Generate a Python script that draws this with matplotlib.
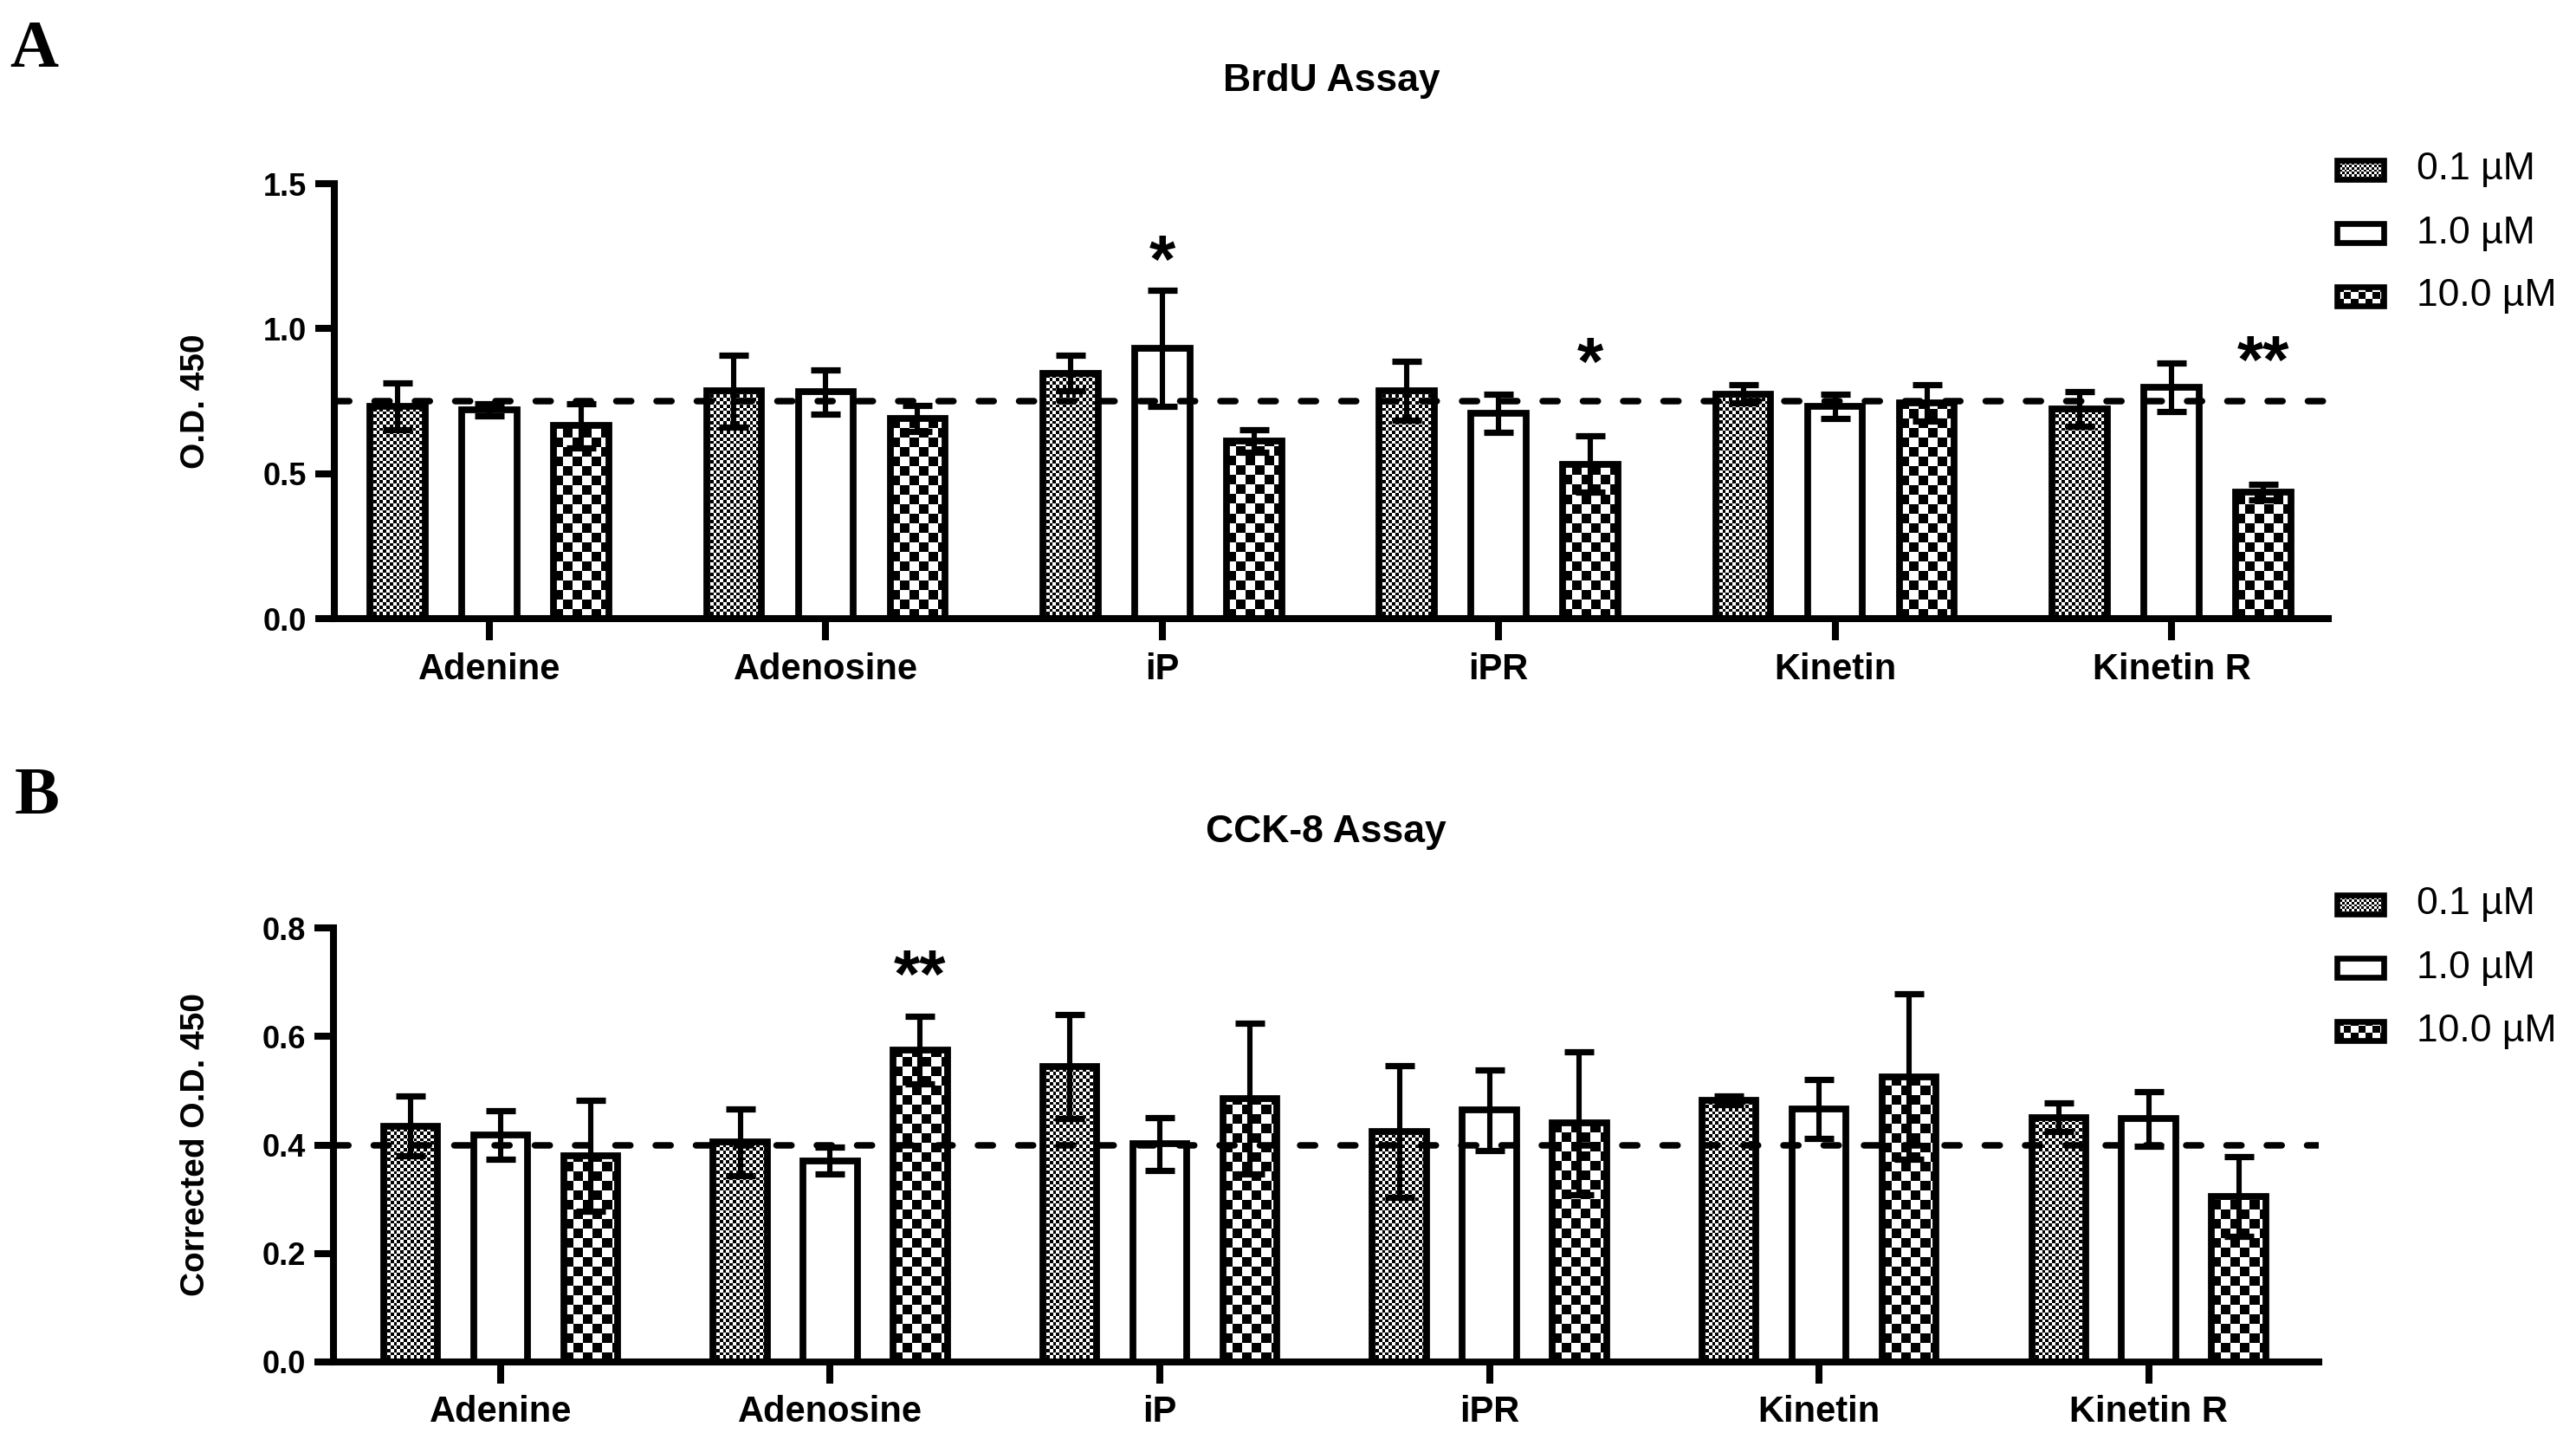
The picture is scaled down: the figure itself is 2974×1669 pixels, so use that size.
import numpy as np
import matplotlib
matplotlib.use("Agg")
import matplotlib.pyplot as plt
from matplotlib.patches import Rectangle
from matplotlib import transforms

plt.rcParams["font.family"] = ["Liberation Sans", "DejaVu Sans"]

# ---------------- data ----------------
categories = ["Adenine", "Adenosine", "iP", "iPR", "Kinetin", "Kinetin R"]
series_labels = ["0.1 µM", "1.0 µM", "10.0 µM"]

# Panel A: BrdU assay (O.D. 450)
brdu_01 = [0.732, 0.785, 0.847, 0.785, 0.775, 0.723]
brdu_01_err = [0.080, 0.124, 0.062, 0.102, 0.031, 0.059]
brdu_10 = [0.720, 0.782, 0.931, 0.709, 0.732, 0.797]
brdu_10_err = [0.020, 0.076, 0.200, 0.066, 0.043, 0.083]
brdu_100 = [0.665, 0.690, 0.613, 0.533, 0.743, 0.436]
brdu_100_err = [0.077, 0.045, 0.038, 0.096, 0.063, 0.028]
brdu_control = 0.75
brdu_yticks = [0.0, 0.5, 1.0, 1.5]
brdu_stars = [("iP", 1, "*", 1.264), ("iPR", 2, "*", 0.911), ("Kinetin R", 2, "**", 0.916)]

# Panel B: CCK-8 assay (corrected O.D. 450)
cck_01 = [0.435, 0.405, 0.545, 0.425, 0.482, 0.451]
cck_01_err = [0.055, 0.062, 0.096, 0.122, 0.008, 0.026]
cck_10 = [0.418, 0.371, 0.402, 0.464, 0.466, 0.448]
cck_10_err = [0.045, 0.025, 0.049, 0.074, 0.054, 0.050]
cck_100 = [0.380, 0.575, 0.486, 0.440, 0.526, 0.305]
cck_100_err = [0.103, 0.062, 0.139, 0.132, 0.153, 0.074]
cck_control = 0.40
cck_yticks = [0.0, 0.2, 0.4, 0.6, 0.8]
cck_stars = [("Adenosine", 2, "**", 0.729)]

# ---------------- figure ----------------
W, H, DPI = 2974, 1669, 200
fig = plt.figure(figsize=(W / DPI, H / DPI), dpi=DPI)


def fx(px):
    return px / W


def fy(py):
    return 1 - py / H


CELL = [3.8, None, 11.0]   # checker cell size (pixels) per series
OFFS = [-0.273, 0.0, 0.273]
BAR_W = 0.164
EDGE_LW = 2.8
SPINE_LW = 2.9


def checker_fill(ax, patch, cell_px, z=2):
    x0, y0 = patch.get_x(), patch.get_y()
    w, h = patch.get_width(), patch.get_height()
    p0 = ax.transData.transform((x0, y0))
    p1 = ax.transData.transform((x0 + w, y0 + h))
    wpx, hpx = abs(p1[0] - p0[0]), abs(p1[1] - p0[1])
    if wpx <= 0 or hpx <= 0:
        return
    nx = int(np.ceil(wpx / cell_px)) + 1
    ny = int(np.ceil(hpx / cell_px)) + 1
    arr = np.add.outer(np.arange(ny), np.arange(nx)) % 2
    cw = cell_px * w / wpx
    ch = cell_px * h / hpx
    im = ax.imshow(arr, cmap="gray", vmin=0, vmax=1, interpolation="nearest",
                   extent=(x0, x0 + nx * cw, y0, y0 + ny * ch), origin="lower",
                   aspect="auto", zorder=z)
    im.set_clip_path(patch)


def draw_panel(rect, xlim, means, errs, control, yticks, stars, title,
               ylabel, title_y, legend_rows):
    ax = fig.add_axes(rect)
    ylim = (yticks[0], yticks[-1])
    ax.set_xlim(*xlim)
    ax.set_ylim(*ylim)
    x = np.arange(len(categories))
    for s in range(3):
        xs = x + OFFS[s]
        if CELL[s] is None:
            bars = ax.bar(xs, means[s], width=BAR_W, facecolor="white",
                          edgecolor="black", linewidth=EDGE_LW, zorder=3)
        else:
            bars = ax.bar(xs, means[s], width=BAR_W, facecolor="none",
                          edgecolor="black", linewidth=EDGE_LW, zorder=3)
            for b in bars:
                checker_fill(ax, b, CELL[s])
        ax.errorbar(xs, means[s], yerr=errs[s], fmt="none", ecolor="black",
                    elinewidth=2.2, capsize=6.2, capthick=2.6, zorder=5)
    ax.axhline(control, color="black", lw=2.7, linestyle=(0, (2.3, 3.9)),
               dash_capstyle="round", zorder=4)
    ax.set_xlim(*xlim)
    ax.set_ylim(*ylim)
    for side in ("top", "right"):
        ax.spines[side].set_visible(False)
    for side in ("left", "bottom"):
        ax.spines[side].set_linewidth(SPINE_LW)
    ax.set_xticks(x, labels=categories, fontweight="bold", fontsize=15)
    ax.set_yticks(yticks, labels=[f"{t:.1f}" for t in yticks],
                  fontweight="bold", fontsize=13)
    ax.tick_params(axis="x", length=9, width=SPINE_LW, pad=5.0)
    ax.tick_params(axis="y", length=7.9, width=SPINE_LW, pad=3.6)
    for cat, s, txt, yv in stars:
        i = categories.index(cat)
        fs = 28
        tr = transforms.offset_copy(ax.transData, fig=fig, y=-0.45 * fs,
                                    units="points")
        ax.text(i + OFFS[s], yv, txt, ha="center", va="baseline",
                fontsize=fs, fontweight="bold", transform=tr, zorder=6)
    # title
    fig.text((rect[0] + rect[0] + rect[2]) / 2, title_y, title, ha="center",
             va="baseline", fontsize=16, fontweight="bold")
    # y label
    fig.text(fx(226), rect[1] + rect[3] / 2, ylabel, rotation=90,
             ha="center", va="center", fontsize=14, fontweight="bold")
    # legend (manual)
    for s, rowy in enumerate(legend_rows):
        lax = fig.add_axes([fx(2698), fy(rowy + 11), 54 / W, 22 / H])
        lax.set_xlim(0, 1)
        lax.set_ylim(0, 1)
        lax.axis("off")
        r = Rectangle((0, 0), 1, 1, facecolor="white" if CELL[s] is None else "none",
                      edgecolor="black", linewidth=2.4, zorder=3, clip_on=False)
        lax.add_patch(r)
        if CELL[s] is not None:
            checker_fill(lax, r, CELL[s] * 0.75)
            lax.set_xlim(0, 1)
            lax.set_ylim(0, 1)
        fig.text(fx(2790), fy(rowy), series_labels[s], ha="left",
                 va="center", fontsize=16)
    return ax


axA = draw_panel([fx(386), fy(714), (2688 - 386) / W, (714 - 212) / H],
                 (-0.461, 5.466),
                 [brdu_01, brdu_10, brdu_100],
                 [brdu_01_err, brdu_10_err, brdu_100_err],
                 brdu_control, brdu_yticks, brdu_stars,
                 "BrdU Assay", "O.D. 450", fy(105), [196, 269, 342])

axB = draw_panel([fx(385), fy(1571.6), (2677 - 385) / W, (1571.6 - 1071.4) / H],
                 (-0.507, 5.516),
                 [cck_01, cck_10, cck_100],
                 [cck_01_err, cck_10_err, cck_100_err],
                 cck_control, cck_yticks, cck_stars,
                 "CCK-8 Assay", "Corrected O.D. 450", fy(972), [1044, 1117, 1190])

fig.text(fx(11), fy(77), "A", ha="left", va="baseline", fontsize=28,
         fontweight="bold", family=["Liberation Serif", "DejaVu Serif"])
fig.text(fx(17), fy(939), "B", ha="left", va="baseline", fontsize=28,
         fontweight="bold", family=["Liberation Serif", "DejaVu Serif"])

fig.savefig("out.png", dpi=DPI, facecolor="white")
